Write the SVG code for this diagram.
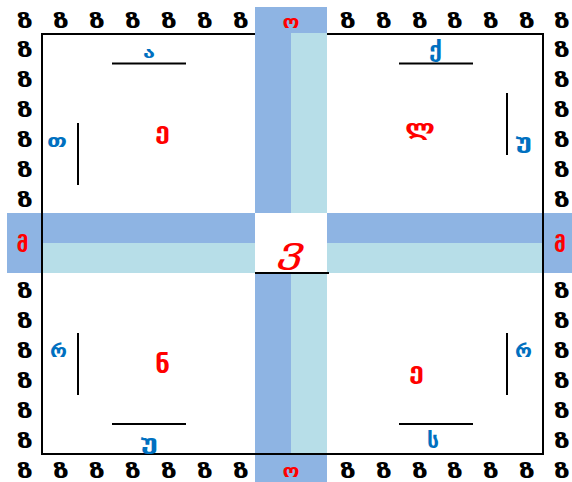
<svg xmlns="http://www.w3.org/2000/svg" xmlns:xlink="http://www.w3.org/1999/xlink" width="572" height="482" viewBox="0 0 572 482">
<style>
text{font-family:"DejaVu Sans",sans-serif;font-weight:bold;text-anchor:middle}
.z{font-size:20px;fill:#000}
.r{fill:#FF0000}
.b{fill:#0070C0}
.it{font-weight:normal;font-style:italic}
.ln{stroke:#000;stroke-width:2;fill:none}
.dk{fill:#8EB4E3}
.lt{fill:#B7DEE8}
</style>
<defs>
<text id="zg" class="z" x="0" y="0" textLength="16" lengthAdjust="spacingAndGlyphs">ზ</text>
</defs>
<rect width="572" height="482" fill="#fff"/>
<g id="frame">
<rect x="42" y="34" width="501" height="420" class="ln"/>
</g>
<g id="vband">
<rect x="255" y="7" width="72" height="27" class="dk"/>
<rect x="255" y="33" width="36" height="180" class="dk"/>
<rect x="291" y="33" width="36" height="180" class="lt"/>
<rect x="255" y="273" width="36" height="181" class="dk"/>
<rect x="291" y="273" width="36" height="181" class="lt"/>
<rect x="255" y="454" width="72" height="28" class="dk"/>
</g>
<g id="hband">
<rect x="7" y="213" width="35" height="60" class="dk"/>
<rect x="42" y="213" width="213" height="30" class="dk"/>
<rect x="42" y="243" width="213" height="30" class="lt"/>
<rect x="327" y="213" width="216" height="30" class="dk"/>
<rect x="327" y="243" width="216" height="30" class="lt"/>
<rect x="543" y="213" width="29" height="60" class="dk"/>
</g>
<g id="edges">
<line x1="42" y1="33" x2="42" y2="455" class="ln"/>
<line x1="543" y1="33" x2="543" y2="455" class="ln"/>
<line x1="41" y1="454" x2="544" y2="454" class="ln"/>
<line x1="255" y1="273" x2="329" y2="273" class="ln"/>
</g>
<g id="border-letters">
<use xlink:href="#zg" x="25" y="28"/><use xlink:href="#zg" x="61" y="28"/><use xlink:href="#zg" x="97" y="28"/><use xlink:href="#zg" x="133" y="28"/><use xlink:href="#zg" x="169" y="28"/><use xlink:href="#zg" x="205" y="28"/><use xlink:href="#zg" x="241" y="28"/>
<use xlink:href="#zg" x="348" y="28"/><use xlink:href="#zg" x="384" y="28"/><use xlink:href="#zg" x="420" y="28"/><use xlink:href="#zg" x="455" y="28"/><use xlink:href="#zg" x="491" y="28"/><use xlink:href="#zg" x="527" y="28"/><use xlink:href="#zg" x="562" y="28"/>
<use xlink:href="#zg" x="25" y="57"/><use xlink:href="#zg" x="25" y="87"/><use xlink:href="#zg" x="25" y="117"/><use xlink:href="#zg" x="25" y="147"/><use xlink:href="#zg" x="25" y="177"/><use xlink:href="#zg" x="25" y="207"/>
<use xlink:href="#zg" x="25" y="298"/><use xlink:href="#zg" x="25" y="328"/><use xlink:href="#zg" x="25" y="358"/><use xlink:href="#zg" x="25" y="388"/><use xlink:href="#zg" x="25" y="418"/><use xlink:href="#zg" x="25" y="448"/>
<use xlink:href="#zg" x="562" y="57"/><use xlink:href="#zg" x="562" y="87"/><use xlink:href="#zg" x="562" y="117"/><use xlink:href="#zg" x="562" y="147"/><use xlink:href="#zg" x="562" y="177"/><use xlink:href="#zg" x="562" y="207"/>
<use xlink:href="#zg" x="562" y="298"/><use xlink:href="#zg" x="562" y="328"/><use xlink:href="#zg" x="562" y="358"/><use xlink:href="#zg" x="562" y="388"/><use xlink:href="#zg" x="562" y="418"/><use xlink:href="#zg" x="562" y="448"/>
<use xlink:href="#zg" x="25" y="478"/><use xlink:href="#zg" x="61" y="478"/><use xlink:href="#zg" x="97" y="478"/><use xlink:href="#zg" x="133" y="478"/><use xlink:href="#zg" x="169" y="478"/><use xlink:href="#zg" x="205" y="478"/><use xlink:href="#zg" x="241" y="478"/>
<use xlink:href="#zg" x="348" y="478"/><use xlink:href="#zg" x="384" y="478"/><use xlink:href="#zg" x="420" y="478"/><use xlink:href="#zg" x="455" y="478"/><use xlink:href="#zg" x="491" y="478"/><use xlink:href="#zg" x="527" y="478"/><use xlink:href="#zg" x="562" y="478"/>
</g>
<g id="gates">
<text class="r" x="291" y="28" font-size="17" textLength="17" lengthAdjust="spacingAndGlyphs">ო</text>
<text class="r" x="291" y="477" font-size="17" textLength="17" lengthAdjust="spacingAndGlyphs">ო</text>
<text class="r" x="22.5" y="252" font-size="22" textLength="12" lengthAdjust="spacingAndGlyphs">მ</text>
<text class="r" x="560" y="252" font-size="22" textLength="12" lengthAdjust="spacingAndGlyphs">მ</text>
<text class="r it" x="290" y="262" font-size="35" textLength="26" lengthAdjust="spacingAndGlyphs">ვ</text>
</g>
<g id="q-top-left">
<text class="r" x="162.5" y="139" font-size="23" textLength="15" lengthAdjust="spacingAndGlyphs">ე</text>
<line x1="112" y1="63.5" x2="186" y2="63.5" class="ln"/>
<text class="b" x="149" y="58" font-size="15" textLength="12" lengthAdjust="spacingAndGlyphs">ა</text>
<line x1="78" y1="123" x2="78" y2="185" class="ln"/>
<text class="b" x="57" y="147" font-size="18" textLength="20" lengthAdjust="spacingAndGlyphs">თ</text>
</g>
<g id="q-top-right">
<text class="r" x="420" y="135" font-size="22" textLength="30" lengthAdjust="spacingAndGlyphs">ლ</text>
<line x1="399" y1="63.5" x2="473" y2="63.5" class="ln"/>
<text class="b" x="435.5" y="57" font-size="22" textLength="13" lengthAdjust="spacingAndGlyphs">ქ</text>
<line x1="507" y1="93" x2="507" y2="155" class="ln"/>
<text class="b" x="523.5" y="148" font-size="19" textLength="17" lengthAdjust="spacingAndGlyphs">უ</text>
</g>
<g id="q-bottom-left">
<text class="r" x="162.5" y="373" font-size="25" textLength="15" lengthAdjust="spacingAndGlyphs">ნ</text>
<line x1="78" y1="333" x2="78" y2="395" class="ln"/>
<text class="b" x="58.5" y="357" font-size="18" textLength="17" lengthAdjust="spacingAndGlyphs">რ</text>
<line x1="112" y1="424" x2="186" y2="424" class="ln"/>
<text class="b" x="149" y="449" font-size="19" textLength="18" lengthAdjust="spacingAndGlyphs">უ</text>
</g>
<g id="q-bottom-right">
<text class="r" x="416.5" y="379" font-size="23" textLength="15" lengthAdjust="spacingAndGlyphs">ე</text>
<line x1="507" y1="333" x2="507" y2="395" class="ln"/>
<text class="b" x="523.5" y="357" font-size="18" textLength="17" lengthAdjust="spacingAndGlyphs">რ</text>
<line x1="399" y1="424" x2="473" y2="424" class="ln"/>
<text class="b" x="433" y="448" font-size="21" textLength="12" lengthAdjust="spacingAndGlyphs">ს</text>
</g>
</svg>
